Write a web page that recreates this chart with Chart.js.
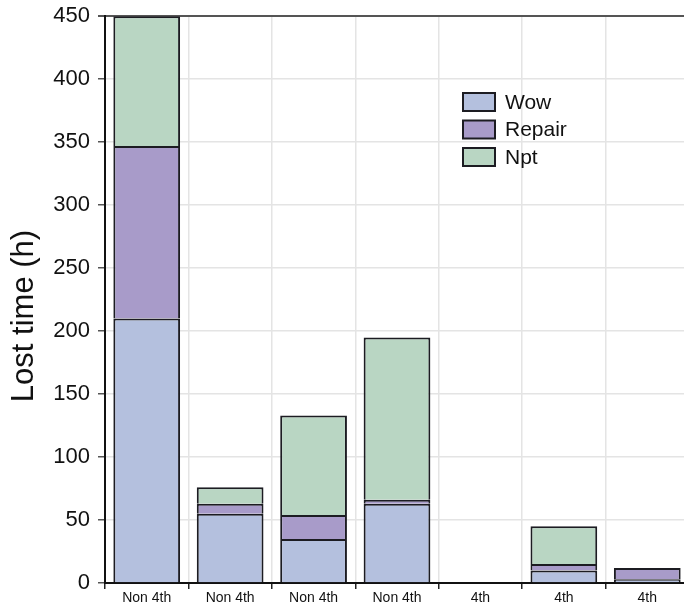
<!DOCTYPE html>
<html>
<head>
<meta charset="utf-8">
<script src="https://cdn.jsdelivr.net/npm/chart.js@4.4.1/dist/chart.umd.min.js"></script>
<style>
  html, body { margin: 0; padding: 0; background: #fff; overflow: hidden; }
  #wrap { position: relative; width: 689px; height: 614px; margin-top: -5px; }
</style>
</head>
<body>
<div id="wrap"><canvas id="c" width="689" height="614"></canvas></div>
<script>
// Lost time per campaign, stacked by cause (hours)
const categories = ['Non 4th', 'Non 4th', 'Non 4th', 'Non 4th', '4th', '4th', '4th'];
const wow    = [210, 55, 35, 63, null, 10, 3];
const repair = [137,  8, 19,  3, null,  5, 9];
const npt    = [103, 13, 79, 129, null, 30, null];
const yTicks = [0, 50, 100, 150, 200, 250, 300, 350, 400, 450];

const seriesNames = ['Wow', 'Repair', 'Npt'];
const fills = ['#b4c0de', '#a89bc9', '#b9d6c3'];
const edge = '#1c1c22';
const FONT = '"Liberation Sans", Arial, Helvetica, sans-serif';

const makeSet = (label, data, color) => ({
  label, data,
  backgroundColor: color,
  borderColor: edge,
  borderWidth: 2,
  barPercentage: 0.8,
  categoryPercentage: 1.0,
  stack: 's'
});

// Legend and axis title drawn onto the canvas
const decor = {
  id: 'decor',
  afterDraw(chart) {
    const ctx = chart.ctx;
    ctx.save();
    // vertical axis title
    ctx.translate(24, 321);
    ctx.rotate(-Math.PI / 2);
    ctx.font = '31px ' + FONT;
    ctx.fillStyle = '#111';
    ctx.textAlign = 'center';
    ctx.textBaseline = 'middle';
    ctx.fillText('Lost time (h)', 0, 0);
    ctx.restore();

    // legend
    ctx.save();
    const x0 = 463, y0 = 98, bw = 32, bh = 18, step = 27.5;
    ctx.font = '21px ' + FONT;
    ctx.textBaseline = 'middle';
    ctx.textAlign = 'left';
    chart.data.datasets.forEach((ds, i) => {
      const y = y0 + i * step;
      ctx.fillStyle = ds.backgroundColor;
      ctx.fillRect(x0, y, bw, bh);
      ctx.lineWidth = 2;
      ctx.strokeStyle = edge;
      ctx.strokeRect(x0, y, bw, bh);
      ctx.fillStyle = '#111';
      ctx.fillText(ds.label, x0 + 42, y + bh / 2 + 1);
    });
    ctx.restore();
  }
};

new Chart(document.getElementById('c'), {
  type: 'bar',
  data: {
    labels: categories,
    datasets: [
      makeSet(seriesNames[0], wow, fills[0]),
      makeSet(seriesNames[1], repair, fills[1]),
      makeSet(seriesNames[2], npt, fills[2])
    ]
  },
  options: {
    responsive: false,
    animation: false,
    layout: { padding: { top: 10, right: 0, bottom: 0, left: 0 } },
    plugins: {
      legend: { display: false },
      tooltip: { enabled: false }
    },
    scales: {
      x: {
        stacked: true,
        offset: true,
        grid: {
          offset: true,
          color: '#e4e4e4',
          lineWidth: 1.5,
          tickColor: '#222',
          tickLength: 6
        },
        border: { color: '#111', width: 2 },
        ticks: {
          color: '#111',
          padding: 1,
          font: { family: FONT, size: 14 },
          maxRotation: 0,
          autoSkip: false
        },
        afterFit(scale) { scale.height = 26; }
      },
      y: {
        stacked: true,
        min: 0,
        max: 450,
        afterBuildTicks(scale) { scale.ticks = yTicks.map(v => ({ value: v })); },
        grid: {
          color: ctx => (ctx.tick && ctx.tick.value === 450) ? '#555' : '#e4e4e4',
          lineWidth: ctx => (ctx.tick && ctx.tick.value === 450) ? 2 : 1.5,
          tickColor: '#555',
          tickLength: 7
        },
        border: { color: '#111', width: 2 },
        ticks: {
          color: '#111',
          padding: 8,
          font: { family: FONT, size: 22 }
        },
        afterFit(scale) { scale.width = 105; }
      }
    }
  },
  plugins: [decor]
});
</script>
</body>
</html>
